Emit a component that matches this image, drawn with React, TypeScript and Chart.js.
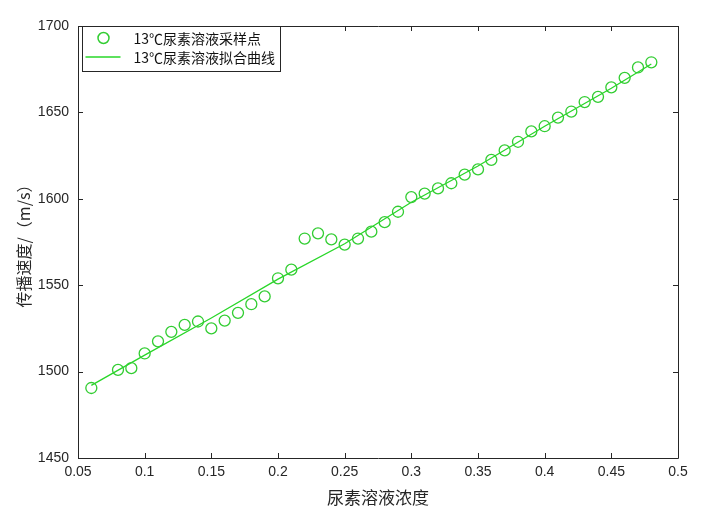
import React, { useEffect, useRef } from 'react';
import { Chart, registerables } from 'chart.js';

Chart.register(...registerables);

const sampleX = [0.06, 0.08, 0.09, 0.10, 0.11, 0.12, 0.13, 0.14, 0.15, 0.16, 0.17, 0.18, 0.19, 0.20, 0.21, 0.22, 0.23, 0.24, 0.25, 0.26, 0.27, 0.28, 0.29, 0.30, 0.31, 0.32, 0.33, 0.34, 0.35, 0.36, 0.37, 0.38, 0.39, 0.40, 0.41, 0.42, 0.43, 0.44, 0.45, 0.46, 0.47, 0.48];
const sampleY = [1490.5, 1501, 1502, 1510.5, 1517.5, 1523, 1527, 1529, 1525, 1529.5, 1534, 1539, 1543.5, 1554, 1559, 1577, 1580, 1576.5, 1573.5, 1577, 1581, 1586.5, 1592.5, 1601, 1603, 1606, 1609, 1614, 1617, 1622.5, 1628, 1633, 1639, 1642, 1647, 1650.5, 1656, 1659, 1664.5, 1670, 1676, 1679];

const fitX = [0.06, 0.10, 0.15, 0.20, 0.25, 0.30, 0.35, 0.40, 0.45, 0.48];
const fitY = [1492, 1509.5, 1531, 1553.5, 1574, 1598, 1619, 1642, 1664, 1678];

const xTicks = [0.05, 0.1, 0.15, 0.2, 0.25, 0.3, 0.35, 0.4, 0.45, 0.5];
const xTickLabels = ['0.05', '0.1', '0.15', '0.2', '0.25', '0.3', '0.35', '0.4', '0.45', '0.5'];
const yTicks = [1450, 1500, 1550, 1600, 1650, 1700];
const yTickLabels = ['1450', '1500', '1550', '1600', '1650', '1700'];

const legendLabels = ['13℃尿素溶液采样点', '13℃尿素溶液拟合曲线'];
const xTitle = '尿素溶液浓度';
const yTitle = '传播速度/（m/s）';

const GREEN_PT = 'rgb(50,205,50)';
const GREEN_LINE = 'rgb(40,215,40)';
const AXIS = '#262626';

const boxPlugin = {
  id: 'boxPlugin',
  afterDraw(chart: any) {
    const { ctx, chartArea } = chart;
    const { left, right, top, bottom } = chartArea;
    const xs = chart.scales.x;
    const ys = chart.scales.y;
    ctx.save();
    ctx.strokeStyle = AXIS;
    ctx.lineWidth = 1;
    ctx.beginPath();
    ctx.rect(Math.round(left) + 0.5, Math.round(top) + 0.5, Math.round(right - left), Math.round(bottom - top));
    ctx.stroke();
    const tl = 5;
    ctx.beginPath();
    xTicks.forEach((v) => {
      const px = Math.round(xs.getPixelForValue(v)) + 0.5;
      ctx.moveTo(px, bottom);
      ctx.lineTo(px, bottom - tl);
      ctx.moveTo(px, top);
      ctx.lineTo(px, top + tl);
    });
    yTicks.forEach((v) => {
      const py = Math.round(ys.getPixelForValue(v)) + 0.5;
      ctx.moveTo(left, py);
      ctx.lineTo(left + tl, py);
      ctx.moveTo(right, py);
      ctx.lineTo(right - tl, py);
    });
    ctx.stroke();

    // legend
    const lx = Math.round(left) + 4.5;
    const ly = Math.round(top) + 0.5;
    const lw = 198;
    const lh = 45;
    ctx.fillStyle = '#ffffff';
    ctx.fillRect(lx, ly, lw, lh);
    ctx.strokeStyle = AXIS;
    ctx.lineWidth = 1;
    ctx.strokeRect(lx, ly, lw, lh);
    ctx.strokeStyle = GREEN_PT;
    ctx.lineWidth = 1.5;
    ctx.beginPath();
    ctx.arc(lx + 21, ly + 11.5, 5.5, 0, Math.PI * 2);
    ctx.stroke();
    ctx.strokeStyle = GREEN_LINE;
    ctx.lineWidth = 1.5;
    ctx.beginPath();
    ctx.moveTo(lx + 3, ly + 30.5);
    ctx.lineTo(lx + 38, ly + 30.5);
    ctx.stroke();
    ctx.fillStyle = '#111111';
    ctx.font = '14px "Noto Sans CJK SC", "Noto Sans", sans-serif';
    ctx.textAlign = 'left';
    ctx.textBaseline = 'middle';
    ctx.fillText(legendLabels[0], lx + 51, ly + 12);
    ctx.fillText(legendLabels[1], lx + 51, ly + 31);
    ctx.restore();
  },
};

export default function App() {
  const ref = useRef<HTMLCanvasElement | null>(null);
  useEffect(() => {
    if (!ref.current) return;
    const chart = new Chart(ref.current, {
      type: 'scatter',
      data: {
        datasets: [
          {
            label: legendLabels[0],
            data: sampleX.map((x, i) => ({ x, y: sampleY[i] })),
            pointStyle: 'circle',
            pointRadius: 5.5,
            pointBorderWidth: 1.3,
            borderColor: GREEN_PT,
            backgroundColor: 'rgba(0,0,0,0)',
            showLine: false,
          },
          {
            label: legendLabels[1],
            data: fitX.map((x, i) => ({ x, y: fitY[i] })),
            type: 'line',
            borderColor: GREEN_LINE,
            borderWidth: 1.3,
            pointRadius: 0,
            fill: false,
            tension: 0,
            showLine: true,
          } as any,
        ],
      },
      options: {
        animation: false,
        responsive: false,
        devicePixelRatio: 1,
        layout: { padding: { left: 0, top: 26, right: 25, bottom: 0 } },
        plugins: { legend: { display: false }, tooltip: { enabled: false } },
        scales: {
          x: {
            type: 'linear',
            min: 0.05,
            max: 0.5,
            grid: { display: false, drawTicks: false },
            border: { display: false },
            afterBuildTicks: (s: any) => {
              s.ticks = xTicks.map((v) => ({ value: v }));
            },
            afterFit: (s: any) => {
              s.height = 55;
            },
            ticks: {
              autoSkip: false,
              maxRotation: 0,
              padding: 6,
              color: AXIS,
              font: { family: '"Liberation Sans", Arial, sans-serif', size: 14 },
              callback: (_v: any, i: number) => xTickLabels[i],
            },
            title: {
              display: true,
              text: xTitle,
              color: AXIS,
              font: { family: '"Noto Sans CJK SC", sans-serif', size: 17 },
              padding: { top: 0, bottom: 5 },
            },
          },
          y: {
            type: 'linear',
            min: 1450,
            max: 1700,
            grid: { display: false, drawTicks: false },
            border: { display: false },
            afterBuildTicks: (s: any) => {
              s.ticks = yTicks.map((v) => ({ value: v }));
            },
            afterFit: (s: any) => {
              s.width = 78;
            },
            ticks: {
              padding: 9,
              color: AXIS,
              font: { family: '"Liberation Sans", Arial, sans-serif', size: 14 },
              callback: (_v: any, i: number) => yTickLabels[i],
            },
            title: {
              display: true,
              text: yTitle,
              color: AXIS,
              font: { family: '"Noto Sans CJK SC", sans-serif', size: 16 },
              padding: { top: 14, bottom: 0 },
            },
          },
        },
      },
      plugins: [boxPlugin],
    });
    return () => chart.destroy();
  }, []);
  return (
    <div style={{ position: 'absolute', left: 0, top: 0, width: 703, height: 513, background: '#fff' }}>
      <canvas ref={ref} width={703} height={513} style={{ display: 'block' }} />
    </div>
  );
}
